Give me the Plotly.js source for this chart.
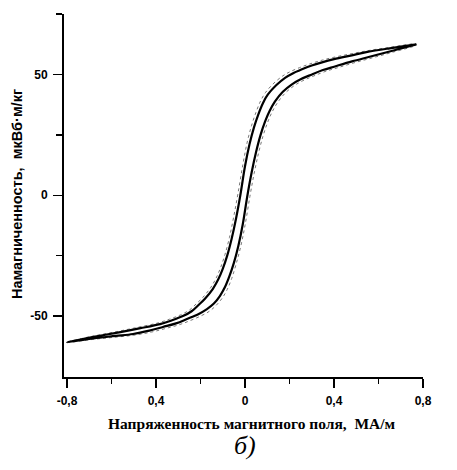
<!DOCTYPE html>
<html>
<head>
<meta charset="utf-8">
<script src="https://cdn.plot.ly/plotly-3.0.1.min.js"></script>
<style>html,body{margin:0;padding:0;background:#fff;}#chart{width:457px;height:470px;}</style>
</head>
<body>
<div id="chart"></div>
<script>
// Curve A (thick): descending (upper) branch, from +saturation to -saturation
const upperA_x = [0.77, 0.65, 0.55, 0.48, 0.4, 0.346, 0.3, 0.256, 0.21, 0.18, 0.14, 0.103, 0.08, 0.06, 0.04, 0.02, 0.0, -0.021, -0.04, -0.06, -0.08, -0.1, -0.12, -0.145, -0.18, -0.21, -0.24, -0.279, -0.33, -0.382, -0.47, -0.56, -0.68, -0.8];
const upperA_y = [62.4, 60.8, 59.3, 57.9, 56.3, 55, 53.7, 52.1, 50.2, 48.6, 45.5, 41.7, 38, 33.5, 28, 21, 12, 0, -9.5, -18, -25, -30.5, -34.8, -38.8, -42.8, -45.5, -48, -50, -51.8, -53.3, -55, -56.6, -58.6, -60.8];
// Curve A: ascending (lower) branch
const lowerA_x = [-0.8, -0.68, -0.58, -0.503, -0.43, -0.369, -0.31, -0.261, -0.21, -0.171, -0.14, -0.113, -0.09, -0.07, -0.05, -0.03, -0.01, 0.011, 0.03, 0.05, 0.07, 0.09, 0.11, 0.135, 0.17, 0.211, 0.25, 0.301, 0.35, 0.404, 0.481, 0.56, 0.65, 0.77];
const lowerA_y = [-60.8, -59.2, -58.2, -57.4, -56, -54.5, -53, -51.2, -49.2, -47.1, -44.8, -41.7, -38, -33.5, -28, -21, -12, 0, 9.5, 18, 25, 30.5, 34.8, 38.8, 42.8, 45.9, 48, 50, 51.8, 53.3, 55.4, 57.3, 59.5, 62.4];
// Curve B (thin, grey dotted)
const upperB_x = [0.77, 0.65, 0.55, 0.47, 0.39, 0.335, 0.29, 0.245, 0.2, 0.17, 0.13, 0.092, 0.07, 0.05, 0.03, 0.01, -0.01, -0.032, -0.051, -0.07, -0.09, -0.11, -0.13, -0.155, -0.19, -0.22, -0.25, -0.29, -0.34, -0.39, -0.48, -0.57, -0.69, -0.8];
const upperB_y = [62.6, 61.2, 59.8, 58.4, 56.9, 55.6, 54.3, 52.8, 51, 49.4, 46.4, 42.5, 39, 34.5, 29, 22, 12.5, 0.5, -9, -17.5, -24.5, -30, -34.3, -38.3, -42.3, -45, -47.5, -49.5, -51.3, -52.8, -54.6, -56.3, -58.4, -60.6];
const lowerB_x = [-0.8, -0.68, -0.58, -0.5, -0.42, -0.36, -0.3, -0.25, -0.2, -0.16, -0.13, -0.102, -0.08, -0.06, -0.04, -0.02, 0.0, 0.022, 0.041, 0.061, 0.081, 0.101, 0.121, 0.146, 0.181, 0.222, 0.26, 0.31, 0.36, 0.414, 0.49, 0.57, 0.66, 0.77];
const lowerB_y = [-61, -59.6, -58.7, -57.9, -56.6, -55.2, -53.7, -52, -50, -48, -45.6, -42.5, -39, -34.5, -28.5, -21.5, -12.5, -0.5, 9, 17.5, 24.5, 30, 34.3, 38.3, 42.3, 45.4, 47.4, 49.4, 51.2, 52.7, 54.8, 56.8, 59.1, 62.2];

const xTickVals = [-0.8, -0.4, 0, 0.4, 0.8];
const xTickText = ["-0,8", "0,4", "0", "0,4", "0,8"];
const xMinorVals = [-0.6, -0.2, 0.2, 0.6];
const yTickVals = [-50, 0, 50];
const yTickText = ["-50", "0", "50"];
const yMinorVals = [-25, 25, 75];
const curveLabel = "5,6,8,7";

const traces = [
  {x: lowerB_x.concat(upperB_x), y: lowerB_y.concat(upperB_y), mode: 'lines',
   line: {color: '#777', width: 1, shape: 'spline', dash: 'dot'}, hoverinfo: 'skip'},
  {x: lowerA_x.concat(upperA_x), y: lowerA_y.concat(upperA_y), mode: 'lines',
   line: {color: '#000', width: 2.2, shape: 'spline'}, hoverinfo: 'skip'}
];

const tickFont = {family: 'Liberation Sans, Arial, sans-serif', size: 12, color: '#000', weight: 'bold'};

const layout = {
  width: 457, height: 470,
  margin: {l: 64, r: 34, t: 14, b: 93},
  paper_bgcolor: '#fff', plot_bgcolor: '#fff',
  showlegend: false,
  xaxis: {
    range: [-0.8135, 0.8], showgrid: false, zeroline: false,
    showline: true, linecolor: '#000', linewidth: 2,
    ticks: 'outside', ticklen: 9, tickwidth: 1.5, tickcolor: '#000',
    tickvals: xTickVals, ticktext: xTickText, tickfont: tickFont, ticklabelstandoff: 3,
    minor: {tickvals: xMinorVals, ticks: 'outside', ticklen: 5, tickwidth: 1.5, tickcolor: '#000', showgrid: false}
  },
  yaxis: {
    range: [-75.2, 75], showgrid: false, zeroline: false,
    showline: true, linecolor: '#000', linewidth: 2,
    ticks: 'outside', ticklen: 9, tickwidth: 1.5, tickcolor: '#000',
    tickvals: yTickVals, ticktext: yTickText, tickfont: tickFont, ticklabelstandoff: 3,
    minor: {tickvals: yMinorVals, ticks: 'outside', ticklen: 6, tickwidth: 1.5, tickcolor: '#000', showgrid: false}
  },
  annotations: [
    {xref: 'paper', yref: 'paper', x: -0.131, y: 0.504, xanchor: 'center', yanchor: 'middle', textangle: -90, showarrow: false,
     text: 'Намагниченность,  мкВб·м/кг',
     font: {family: 'Liberation Sans, Arial, sans-serif', size: 14.5, color: '#000', weight: 'bold'}},
    {xref: 'paper', yref: 'paper', x: 0.524, y: -0.127, xanchor: 'center', yanchor: 'middle', showarrow: false,
     text: 'Напряженность магнитного поля,  МА/м',
     font: {family: 'Liberation Serif, Times New Roman, serif', size: 15.5, color: '#000', weight: 'bold'}},
    {xref: 'paper', yref: 'paper', x: 0.504, y: -0.19, xanchor: 'center', yanchor: 'middle', showarrow: false,
     text: '<i>б)</i>',
     font: {family: 'Liberation Serif, Times New Roman, serif', size: 26, color: '#000'}},
    {xref: 'x', yref: 'y', x: 0.809, y: 60.3, xanchor: 'left', yanchor: 'middle', showarrow: false,
     text: curveLabel,
     font: {family: 'Liberation Sans, Arial, sans-serif', size: 9.5, color: '#000', weight: 'bold'}}
  ]
};

Plotly.newPlot('chart', traces, layout, {displayModeBar: false, staticPlot: true});
</script>
</body>
</html>
